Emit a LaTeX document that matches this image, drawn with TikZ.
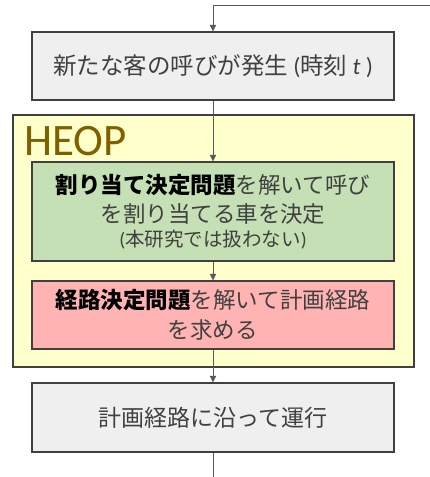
\documentclass[tikz,border=0pt]{standalone}
\usepackage{fontspec}
\setmainfont{Noto Sans CJK JP}
\newfontfamily\lat{Carlito}
\usetikzlibrary{arrows.meta}
\definecolor{txt}{HTML}{404040}
\definecolor{edge}{HTML}{404040}
\definecolor{conn}{HTML}{595959}
\definecolor{grayfill}{HTML}{EFEFEF}
\definecolor{yellowfill}{HTML}{FFFFCC}
\definecolor{greenfill}{HTML}{C5E0B4}
\definecolor{redfill}{HTML}{FFB3B3}
\definecolor{heop}{HTML}{7F6000}
\tikzset{
  x=1pt, y=1pt,
  stepbox/.style={draw=edge, line width=1.4pt, minimum width=362pt, inner sep=0pt,
    align=center, text=txt, font=\fontsize{22.5}{30}\selectfont},
  conn/.style={draw=conn, line width=0.7pt, -{Triangle[width=6.5pt,length=6.5pt]}},
  plain/.style={draw=conn, line width=0.7pt}
}
\begin{document}
\begin{tikzpicture}
\useasboundingbox (0,0) rectangle (430,-477);
% HEOP frame
\node[draw=edge, line width=1.2pt, fill=yellowfill, minimum width=401pt, minimum height=252pt, inner sep=0pt] (heopbox) at (213.5,-241) {};
\node[anchor=west, text=heop, font=\lat\fontsize{45}{45}\selectfont, inner sep=0pt] (heoplabel) at (24,-141) {HEOP};
% boxes
\node[stepbox, fill=grayfill, minimum height=68pt, font=\fontsize{23.5}{30}\selectfont] (call) at (213,-66) {新たな客の呼びが発生 {\lat(}時刻 {\lat\itshape t}{\lat\ )}};
\node[stepbox, fill=greenfill, minimum height=99pt] (assign) at (213,-211.5) {{\color{black}\bfseries 割り当て決定問題}を解いて呼び\\[-1pt]を割り当てる車を決定\\[-6pt]{\fontsize{19.5}{22}\selectfont{\lat(}本研究では扱わない{\lat)}}};
\node[stepbox, fill=redfill, minimum height=68pt] (route) at (213,-315) {{\color{black}\bfseries 経路決定問題}を解いて計画経路\\を求める};
\node[stepbox, fill=grayfill, minimum height=69pt, font=\fontsize{23}{30}\selectfont] (run) at (213,-417.5) {計画経路に沿って運行};
% connectors
\coordinate (loopin) at (430,-5);
\coordinate (loopcorner) at (213,-5);
\coordinate (exit) at (213,-477);
\draw[conn] (loopin) -- (loopcorner) -- (call.north);
\draw[conn] (call.south) -- (assign.north);
\draw[conn] (assign.south) -- (route.north);
\draw[conn] (route.south) -- (run.north);
\draw[plain] (run.south) -- (exit);
\end{tikzpicture}
\end{document}
